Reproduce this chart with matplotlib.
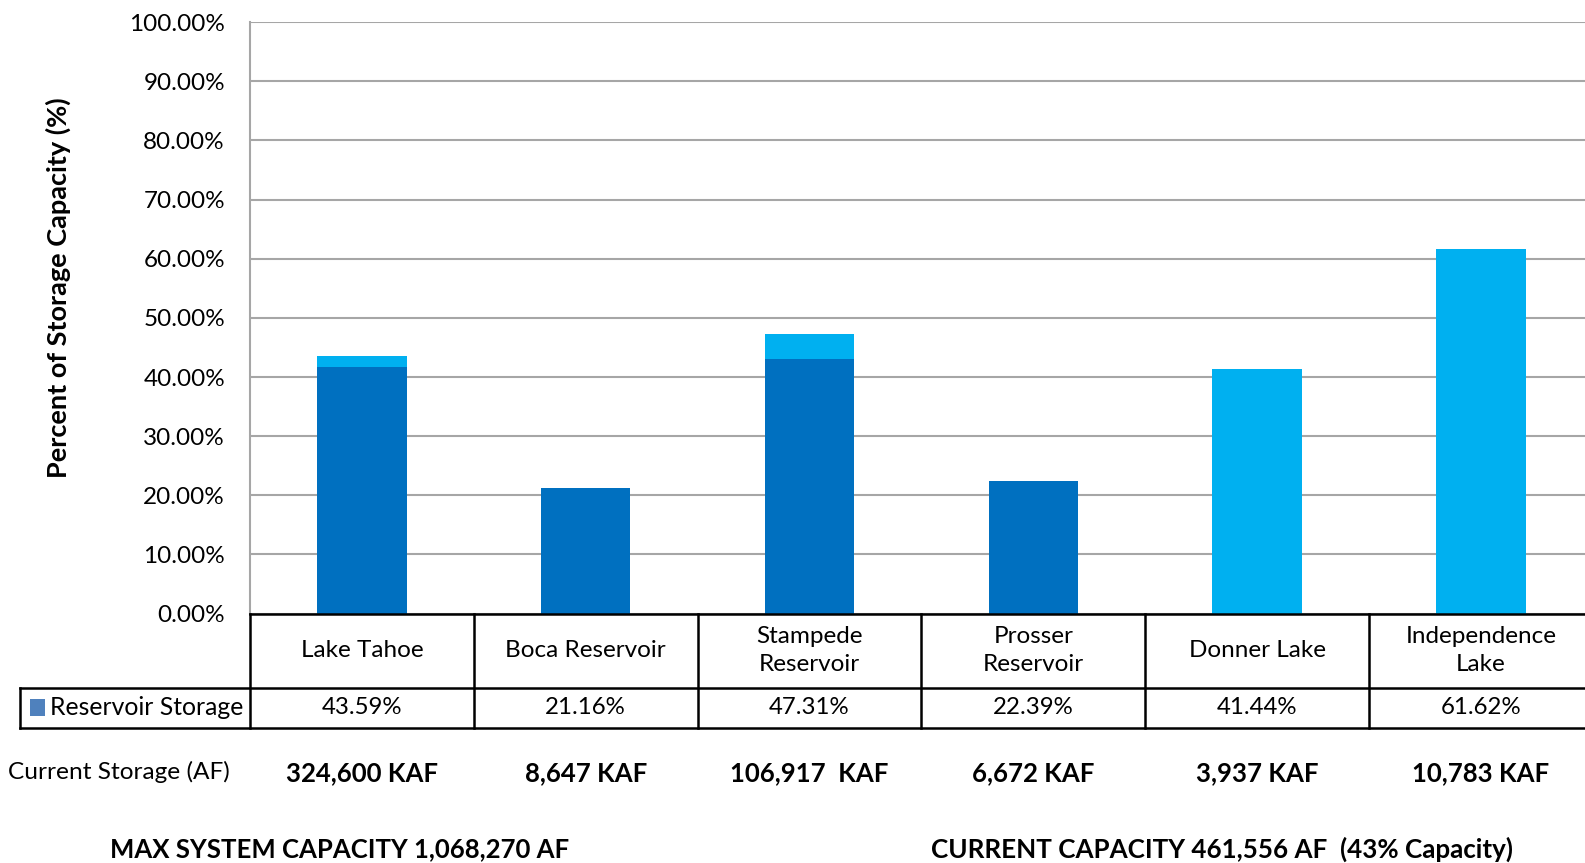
import matplotlib.pyplot as plt
from matplotlib.patches import Rectangle

plt.rcParams["font.family"] = ["Lato", "DejaVu Sans"]

reservoirs = ["Lake Tahoe", "Boca Reservoir", "Stampede\nReservoir",
              "Prosser\nReservoir", "Donner Lake", "Independence\nLake"]
storage_pct = [43.59, 21.16, 47.31, 22.39, 41.44, 61.62]
# dark blue lower part of each bar (0 where the whole bar is light blue)
dark_pct = [41.7, 21.16, 43.1, 22.39, 0.0, 0.0]
current_storage = ["324,600 KAF", "8,647 KAF", "106,917  KAF",
                   "6,672 KAF", "3,937 KAF", "10,783 KAF"]
yticks = [0, 10, 20, 30, 40, 50, 60, 70, 80, 90, 100]

DARK = "#0070C0"
LIGHT = "#00B0F0"
GRID = "#A6A6A6"

W, H = 1585, 863
fig = plt.figure(figsize=(W / 100, H / 100), dpi=100)
left, top, zero, col_w = 250, 22.2, 613.6, 223.8
ax = fig.add_axes([left / W, 1 - zero / H, 6 * col_w / W, (zero - top) / H])

x = range(len(reservoirs))
ax.bar(x, storage_pct, width=0.4, color=LIGHT, zorder=2)
ax.bar(x, dark_pct, width=0.4, color=DARK, zorder=3)

ax.set_xlim(-0.5, 5.5)
ax.set_ylim(0, 100)
ax.set_yticks(yticks)
ax.set_yticklabels([f"{v:.2f}%" for v in yticks], fontsize=17.5)
ax.tick_params(axis="y", length=0, pad=18)
ax.set_xticks([])
ax.yaxis.grid(True, color=GRID, linewidth=1.5, zorder=0)
for s in ["top", "right", "bottom"]:
    ax.spines[s].set_visible(False)
ax.spines["left"].set_color(GRID)
ax.spines["left"].set_linewidth(1.5)
fig.text(58.6 / W, 1 - 288 / H, "Percent of Storage Capacity (%)",
         rotation=90, ha="center", va="center", fontsize=19.5,
         fontweight="bold")

# data table below the axis
row1, row2 = -12.5, -19.3
leg_x = -1.527
kw = dict(color="black", linewidth=1.8, clip_on=False, zorder=4)
ax.plot([-0.5, 5.6], [0, 0], **kw)
ax.plot([leg_x, 5.6], [row1, row1], **kw)
ax.plot([leg_x, 5.6], [row2, row2], **kw)
ax.plot([leg_x, leg_x], [row1, row2], **kw)
for k in range(7):
    ax.plot([k - 0.5, k - 0.5], [0, row2], **kw)

for i, name in enumerate(reservoirs):
    ax.text(i, row1 / 2, name, ha="center", va="center", fontsize=17.5,
            linespacing=1.45, clip_on=False)
    ax.text(i, (row1 + row2) / 2, f"{storage_pct[i]:.2f}%", ha="center",
            va="center", fontsize=17.3, clip_on=False)
    ax.text(i, -27.0, current_storage[i], ha="center", va="center",
            fontsize=18.5, fontweight="bold", clip_on=False)

ax.add_patch(Rectangle((-1.482, -17.3), 0.068, 2.8,
                       facecolor="#4F81BD", clip_on=False, zorder=4))
ax.text(leg_x + 0.135, (row1 + row2) / 2, "Reservoir Storage", ha="left",
        va="center", fontsize=17.8, clip_on=False)
ax.text(-1.58, -26.8, "Current Storage (AF)", ha="left", va="center",
        fontsize=17.6, clip_on=False)

ax.text(-0.102, -39.8, "MAX SYSTEM CAPACITY 1,068,270 AF", ha="center",
        va="center", fontsize=18.5, fontweight="bold", clip_on=False)
ax.text(3.843, -39.8, "CURRENT CAPACITY 461,556 AF  (43% Capacity)",
        ha="center", va="center", fontsize=18.7, fontweight="bold",
        clip_on=False)

fig.savefig("out.png", dpi=100)
